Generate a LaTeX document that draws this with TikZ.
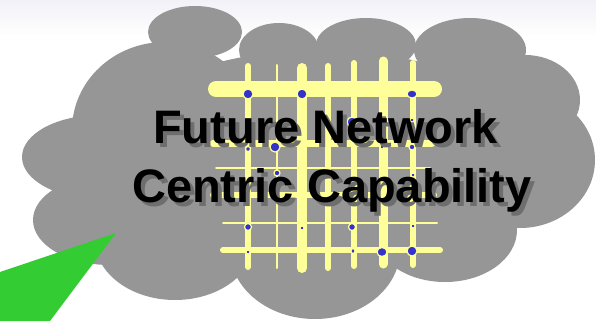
\documentclass[tikz,border=0pt]{standalone}
\usepackage{fontspec}
\setmainfont{Liberation Sans}
\definecolor{cloudgray}{HTML}{969696}
\definecolor{shadowgray}{HTML}{6E6E6E}
\definecolor{gridyellow}{HTML}{FFFF99}
\definecolor{dotblue}{HTML}{3333CC}
\definecolor{arrowgreen}{HTML}{33CC33}
\definecolor{topwash}{HTML}{F1F1F8}
\tikzset{
  cloudpart/.style={fill=cloudgray, draw=none},
  gridline/.style={draw=gridyellow, line cap=round},
  netdot/.style={fill=dotblue, draw=gridyellow, line width=1.2pt},
  titletext/.style={anchor=base west, inner sep=0pt, font=\bfseries\fontsize{47}{56}\selectfont},
}
\begin{document}
\begin{tikzpicture}[x=1pt,y=-1pt]
\useasboundingbox (0,0) rectangle (596,321);
\fill[white] (0,0) rectangle (596,321);
\shade[top color=topwash, bottom color=white, draw=none] (0,0) rectangle (596,36);
% cloud
\fill[cloudpart] (195,32) ellipse [x radius=47, y radius=26];
\fill[cloudpart] (279,50) ellipse [x radius=40, y radius=27];
\fill[cloudpart] (366,45) ellipse [x radius=50, y radius=27];
\fill[cloudpart] (470,50) ellipse [x radius=56, y radius=32];
\fill[cloudpart] (525,100) ellipse [x radius=55, y radius=45];
\fill[cloudpart] (520,160) ellipse [x radius=75, y radius=68];
\fill[cloudpart] (445,230) ellipse [x radius=72, y radius=52];
\fill[cloudpart] (315,250) ellipse [x radius=85, y radius=69];
\fill[cloudpart] (175,240) ellipse [x radius=80, y radius=60];
\fill[cloudpart] (110,220) ellipse [x radius=77, y radius=45];
\fill[cloudpart] (100,157) ellipse [x radius=78, y radius=42];
\fill[cloudpart] (165,130) ellipse [x radius=93, y radius=88];
\fill[cloudpart] (320,160) ellipse [x radius=220, y radius=110];
% green wedge
\fill[arrowgreen] (0,272) -- (116,233) -- (50,321) -- (0,321) -- cycle;
% grid: vertical lines
\draw[gridline, line width=6pt] (248,66) -- (248,267);
\draw[gridline, line width=2pt] (277,65) -- (277,268);
\draw[gridline, line width=10pt] (302,68) -- (302,268);
\draw[gridline, line width=6pt] (328,66) -- (328,268);
\draw[gridline, line width=6pt] (354,63) -- (354,266);
\draw[gridline, line width=9pt] (383,61) -- (383,264);
\draw[gridline, line width=6pt] (413,63) -- (413,265);
% grid: horizontal lines
\draw[gridline, line width=16pt] (216,89) -- (434,89);
\draw[gridline, line width=7pt] (213,143) -- (432,143);
\draw[gridline, line width=2pt] (216,168) -- (430,168);
\draw[gridline, line width=6pt] (213,195) -- (434,195);
\draw[gridline, line width=2pt] (223,223) -- (437,223);
\draw[gridline, line width=6pt] (223,250) -- (440,250);
% dots
\filldraw[netdot] (248,94) ellipse [x radius=5, y radius=5];
\filldraw[netdot] (302,94) ellipse [x radius=5, y radius=5];
\filldraw[netdot] (412,94) ellipse [x radius=5, y radius=4];
\filldraw[netdot] (352,122) ellipse [x radius=5, y radius=5];
\filldraw[netdot] (412,120) ellipse [x radius=2, y radius=2];
\filldraw[netdot] (248,149) ellipse [x radius=2.5, y radius=2.5];
\filldraw[netdot] (275,147) ellipse [x radius=5, y radius=5];
\filldraw[netdot] (382,147) ellipse [x radius=2, y radius=2];
\filldraw[netdot] (412,147) ellipse [x radius=3, y radius=3];
\filldraw[netdot] (277,173) ellipse [x radius=3, y radius=3];
\filldraw[netdot] (413,175) ellipse [x radius=2, y radius=2];
\filldraw[netdot] (415,200) ellipse [x radius=2, y radius=2];
\filldraw[netdot] (248,227) ellipse [x radius=3.5, y radius=3.5];
\filldraw[netdot] (302,228) ellipse [x radius=2, y radius=2];
\filldraw[netdot] (352,227) ellipse [x radius=3.5, y radius=3.5];
\filldraw[netdot] (413,226) ellipse [x radius=2, y radius=2];
\filldraw[netdot] (248,252) ellipse [x radius=2, y radius=2];
\filldraw[netdot] (353,251) ellipse [x radius=2, y radius=2.5];
\filldraw[netdot] (382,252) ellipse [x radius=5, y radius=4.5];
\filldraw[netdot] (412,251) ellipse [x radius=5, y radius=5];
% title with shadow
\node[titletext, text=shadowgray] (l1s) at (157,147) {Future Network};
\node[titletext, text=shadowgray] (l2s) at (136,206) {Centric Capability};
\node[titletext, text=black] (l1) at (153,143) {Future Network};
\node[titletext, text=black] (l2) at (132,202) {Centric Capability};
\end{tikzpicture}
\end{document}
